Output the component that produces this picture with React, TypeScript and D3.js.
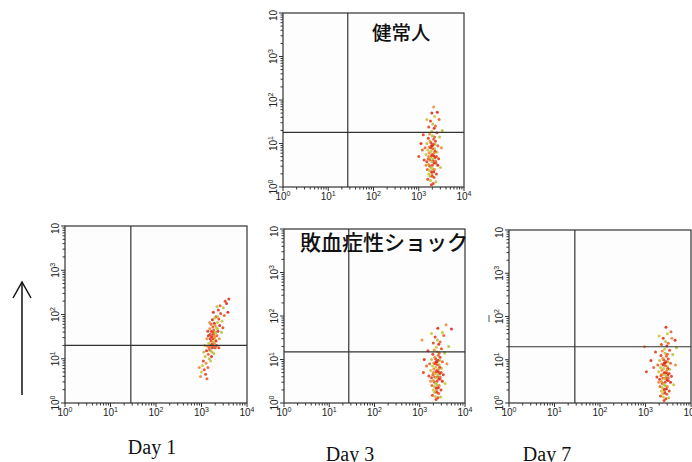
import React, { useEffect, useRef } from "react";
import * as d3 from "d3";

// points are log10 values (x decade, y decade)
const healthyPts =
  "3.30 0.75, 3.25 0.62, 3.35 0.88, 3.28 0.95, 3.22 0.70, 3.38 0.55, 3.31 0.42, 3.27 1.02, 3.33 1.10, 3.20 0.85, 3.36 0.68, 3.29 0.30, 3.24 0.48, 3.40 0.80, 3.18 0.58, 3.34 0.22, 3.26 0.15, 3.31 0.60, 3.23 0.92, 3.37 1.05, 3.30 1.18, 3.21 1.12, 3.42 0.95, 3.16 0.75, 3.28 0.35, 3.35 0.40, 3.32 0.08, 3.25 0.25, 3.39 0.30, 3.19 0.40, 3.27 0.82, 3.33 0.72, 3.22 0.52, 3.30 0.50, 3.36 0.98, 3.44 0.65, 3.14 0.90, 3.29 1.28, 3.34 1.35, 3.24 1.22, 3.40 1.25, 3.31 1.45, 3.26 1.52, 3.37 1.40, 3.35 1.62, 3.29 1.70, 3.33 1.84, 3.22 1.38, 3.46 1.15, 3.12 0.62, 3.08 0.85, 3.48 0.45, 3.05 1.00, 3.50 0.90, 3.20 0.18, 3.38 0.12, 3.28 0.05, 3.31 0.88, 3.26 0.68, 3.34 0.55, 3.23 0.78, 3.32 0.98, 3.27 0.45, 3.36 0.82, 3.21 0.65, 3.29 0.58, 3.33 0.35, 3.25 1.05, 3.39 0.70, 3.18 1.00, 3.30 0.25, 3.35 1.15, 3.24 0.38, 3.42 0.50, 3.16 0.50, 3.28 0.72, 3.32 0.65, 3.26 0.90, 3.37 0.60, 3.22 0.30, 3.30 0.95, 3.34 0.78, 3.00 0.70, 3.52 1.30, 3.10 1.20, 3.45 1.55, 3.18 1.55, 3.41 1.72";
const day1Pts =
  "3.25 1.45, 3.20 1.30, 3.30 1.60, 3.22 1.50, 3.28 1.35, 3.18 1.20, 3.33 1.70, 3.26 1.55, 3.15 1.10, 3.35 1.82, 3.24 1.25, 3.29 1.48, 3.21 1.40, 3.31 1.42, 3.19 1.55, 3.27 1.65, 3.23 1.15, 3.36 1.62, 3.13 1.28, 3.38 1.90, 3.17 1.00, 3.32 1.95, 3.25 1.72, 3.20 0.95, 3.40 1.75, 3.12 1.45, 3.30 1.25, 3.26 1.38, 3.22 1.62, 3.34 1.52, 3.16 1.35, 3.28 1.80, 3.10 0.90, 3.42 2.02, 3.08 1.05, 3.37 2.10, 3.14 0.80, 3.45 1.85, 3.24 1.88, 3.18 1.68, 3.06 0.75, 3.48 2.15, 3.04 0.95, 3.50 1.98, 3.00 0.70, 3.55 2.25, 2.98 0.60, 3.52 2.30, 3.27 1.12, 3.33 1.30, 3.21 1.78, 3.29 1.92, 3.11 1.18, 3.39 1.45, 3.23 1.33, 3.31 1.58, 3.19 1.45, 3.26 1.28, 3.35 1.68, 3.15 1.52, 3.28 1.52, 3.24 1.60, 3.20 1.18, 3.32 1.40, 3.17 1.25, 3.36 1.95, 3.22 1.05, 3.30 1.75, 3.09 0.65, 3.44 1.60, 3.14 1.62, 3.41 2.20, 3.02 0.85, 3.58 2.05, 2.95 0.80, 3.47 1.70, 3.07 1.30, 3.60 2.35, 3.12 0.55, 3.34 2.18, 3.26 2.05, 3.18 1.82, 3.38 1.25, 3.05 1.15";
const day3Pts =
  "3.38 0.75, 3.33 0.60, 3.43 0.88, 3.36 0.95, 3.30 0.70, 3.45 0.55, 3.39 0.42, 3.35 1.02, 3.41 1.10, 3.28 0.85, 3.44 0.68, 3.37 0.30, 3.32 0.48, 3.48 0.80, 3.26 0.58, 3.42 0.22, 3.34 0.15, 3.39 0.60, 3.31 0.92, 3.45 1.05, 3.38 1.18, 3.29 1.12, 3.50 0.95, 3.24 0.75, 3.36 0.35, 3.43 0.40, 3.40 0.12, 3.33 0.25, 3.47 0.30, 3.27 0.40, 3.35 0.82, 3.41 0.72, 3.30 0.52, 3.38 0.50, 3.44 0.98, 3.52 0.65, 3.22 0.90, 3.37 1.28, 3.42 1.35, 3.32 1.22, 3.48 1.25, 3.39 1.45, 3.34 1.52, 3.45 1.40, 3.50 1.62, 3.40 1.72, 3.58 1.80, 3.30 1.38, 3.55 1.15, 3.20 0.62, 3.15 0.85, 3.56 0.45, 3.10 1.00, 3.60 0.90, 3.28 0.18, 3.46 0.14, 3.36 0.08, 3.39 0.88, 3.34 0.68, 3.42 0.55, 3.31 0.78, 3.40 0.98, 3.35 0.45, 3.44 0.82, 3.29 0.65, 3.37 0.58, 3.41 0.35, 3.33 1.05, 3.47 0.70, 3.26 1.00, 3.38 0.25, 3.43 1.15, 3.32 0.38, 3.50 0.50, 3.24 0.50, 3.36 0.72, 3.40 0.65, 3.34 0.90, 3.45 0.60, 3.30 0.30, 3.38 0.95, 3.42 0.78, 3.08 0.70, 3.64 1.30, 3.18 1.20, 3.53 1.55, 3.26 1.60, 3.70 1.70, 3.05 1.45";
const day7Pts =
  "3.43 0.70, 3.38 0.58, 3.48 0.85, 3.41 0.92, 3.35 0.66, 3.50 0.52, 3.44 0.40, 3.40 1.00, 3.46 1.08, 3.33 0.82, 3.49 0.65, 3.42 0.28, 3.37 0.45, 3.53 0.78, 3.31 0.55, 3.47 0.20, 3.39 0.14, 3.44 0.58, 3.36 0.90, 3.50 1.02, 3.43 1.15, 3.34 1.10, 3.55 0.92, 3.29 0.72, 3.41 0.32, 3.48 0.38, 3.45 0.10, 3.38 0.22, 3.52 0.28, 3.32 0.38, 3.40 0.80, 3.46 0.70, 3.35 0.50, 3.43 0.48, 3.49 0.95, 3.57 0.62, 3.27 0.88, 3.42 1.25, 3.47 1.32, 3.37 1.20, 3.53 1.22, 3.44 1.42, 3.39 1.50, 3.50 1.38, 3.48 1.60, 3.45 1.75, 3.58 1.50, 3.35 1.35, 3.60 1.12, 3.25 0.60, 3.18 0.82, 3.62 0.42, 3.12 0.98, 3.66 0.88, 3.33 0.16, 3.51 0.12, 3.41 0.06, 3.44 0.86, 3.39 0.66, 3.47 0.53, 3.36 0.76, 3.45 0.96, 3.40 0.43, 3.49 0.80, 3.34 0.63, 3.42 0.56, 3.46 0.33, 3.38 1.03, 3.52 0.68, 3.31 0.98, 3.43 0.23, 3.48 1.13, 3.37 0.36, 3.55 0.48, 3.29 0.48, 3.41 0.70, 3.45 0.63, 3.39 0.88, 3.50 0.58, 3.35 0.28, 3.43 0.93, 3.47 0.76, 3.02 0.72, 3.68 1.28, 3.22 1.18, 3.56 1.65, 3.30 1.55, 3.65 1.45, 2.98 1.30";

// quadrant gate positions [x, y] in fluorescence units
const gates = [
  [27, 18],
  [28, 20],
  [27, 15],
  [28, 20],
];
const exponents = [0, 1, 2, 3, 4];
const groupLabels = ["健常人", "敗血症性ショック"];
const dayLabels = ["Day 1", "Day 3", "Day 7"];

const dotColors = ["#e23a1f", "#e8602b", "#c8c43c", "#d92e1c", "#ee8a36", "#e4451f", "#b9bf3e"];

const parse = (s: string) =>
  s.split(",").map((p) => {
    const [a, b] = p.trim().split(" ").map(Number);
    return [Math.pow(10, a), Math.pow(10, b)];
  });

const panels = [
  { pts: parse(healthyPts), gate: gates[0], x0: 283, x1: 464, y0: 13, y1: 187 },
  { pts: parse(day1Pts), gate: gates[1], x0: 65, x1: 247, y0: 226, y1: 403 },
  { pts: parse(day3Pts), gate: gates[2], x0: 284, x1: 465, y0: 229, y1: 403 },
  { pts: parse(day7Pts), gate: gates[3], x0: 509, x1: 691, y0: 230, y1: 403 },
];

const App = () => {
  const ref = useRef<SVGSVGElement>(null);

  useEffect(() => {
    document.body.style.margin = "0";
    const svg = d3.select(ref.current);
    svg.selectAll("*").remove();
    svg.append("rect").attr("width", 692).attr("height", 462).attr("fill", "#fff");

    const minors: number[] = [];
    for (let e = 0; e < 4; e++) for (let m = 2; m <= 9; m++) minors.push(m * Math.pow(10, e));

    panels.forEach((p) => {
      const x = d3.scaleLog().domain([1, 1e4]).range([p.x0, p.x1]);
      const y = d3.scaleLog().domain([1, 1e4]).range([p.y1, p.y0]);
      const g = svg.append("g");

      g.append("rect")
        .attr("x", p.x0)
        .attr("y", p.y0)
        .attr("width", p.x1 - p.x0)
        .attr("height", p.y1 - p.y0)
        .attr("fill", "#fdfdfd")
        .attr("stroke", "#333")
        .attr("stroke-width", 1.2);

      // dots
      g.selectAll(".dot")
        .data(p.pts)
        .join("circle")
        .attr("cx", (d) => x(d[0]))
        .attr("cy", (d) => y(d[1]))
        .attr("r", 1.5)
        .attr("fill", (_, i) => dotColors[i % dotColors.length])
        .attr("opacity", 0.9);

      // gate lines
      g.append("line")
        .attr("x1", x(p.gate[0]))
        .attr("x2", x(p.gate[0]))
        .attr("y1", p.y0)
        .attr("y2", p.y1)
        .attr("stroke", "#333")
        .attr("stroke-width", 1.2);
      g.append("line")
        .attr("x1", p.x0)
        .attr("x2", p.x1)
        .attr("y1", y(p.gate[1]))
        .attr("y2", y(p.gate[1]))
        .attr("stroke", "#333")
        .attr("stroke-width", 1.2);

      // ticks
      g.selectAll(".xminor")
        .data(minors)
        .join("line")
        .attr("x1", (d) => x(d))
        .attr("x2", (d) => x(d))
        .attr("y1", p.y1)
        .attr("y2", p.y1 + 2.5)
        .attr("stroke", "#333");
      g.selectAll(".yminor")
        .data(minors)
        .join("line")
        .attr("y1", (d) => y(d))
        .attr("y2", (d) => y(d))
        .attr("x1", p.x0)
        .attr("x2", p.x0 - 2.5)
        .attr("stroke", "#333");
      g.selectAll(".xmajor")
        .data(exponents)
        .join("line")
        .attr("x1", (d) => x(Math.pow(10, d)))
        .attr("x2", (d) => x(Math.pow(10, d)))
        .attr("y1", p.y1)
        .attr("y2", p.y1 + 4)
        .attr("stroke", "#333");
      g.selectAll(".ymajor")
        .data(exponents)
        .join("line")
        .attr("y1", (d) => y(Math.pow(10, d)))
        .attr("y2", (d) => y(Math.pow(10, d)))
        .attr("x1", p.x0)
        .attr("x2", p.x0 - 4)
        .attr("stroke", "#333");

      // x tick labels
      exponents.forEach((e) => {
        const t = g
          .append("text")
          .attr("x", x(Math.pow(10, e)))
          .attr("y", p.y1 + 13)
          .attr("text-anchor", "middle")
          .attr("font-family", "Liberation Sans, Arial, sans-serif")
          .attr("font-size", 10)
          .attr("fill", "#222");
        t.append("tspan").text("10");
        t.append("tspan").attr("dy", -4).attr("font-size", 7).text(String(e));
      });

      // y tick labels (rotated)
      exponents.forEach((e) => {
        const top = e === 4;
        const t = g
          .append("text")
          .attr(
            "transform",
            `translate(${p.x0 - 6},${top ? p.y0 + 8 : y(Math.pow(10, e))}) rotate(-90)`
          )
          .attr("text-anchor", top ? "start" : "middle")
          .attr("font-family", "Liberation Sans, Arial, sans-serif")
          .attr("font-size", 10)
          .attr("fill", "#222");
        t.append("tspan").text("10");
        if (!top) t.append("tspan").attr("dy", -4).attr("font-size", 7).text(String(e));
      });
    });

    // group labels
    const jp = "Noto Sans CJK JP, sans-serif";
    svg.append("text").attr("x", 372).attr("y", 40).attr("font-family", jp).attr("font-size", 19.5).attr("font-weight", 500).attr("fill", "#111").text(groupLabels[0]);
    svg.append("text").attr("x", 300).attr("y", 250).attr("font-family", jp).attr("font-size", 21).attr("font-weight", 500).attr("fill", "#111").text(groupLabels[1]);

    // day labels
    const dayX = [152, 350, 547];
    const dayY = [454, 461, 461];
    dayLabels.forEach((d, i) => {
      svg.append("text")
        .attr("x", dayX[i])
        .attr("y", dayY[i])
        .attr("text-anchor", "middle")
        .attr("font-family", "Liberation Serif, Times New Roman, serif")
        .attr("font-size", 20)
        .attr("fill", "#111")
        .text(d);
    });

    // arrow
    const arrow = svg.append("g").attr("stroke", "#111").attr("stroke-width", 1.5).attr("fill", "none");
    arrow.append("line").attr("x1", 22).attr("x2", 22).attr("y1", 395).attr("y2", 282);
    arrow.append("path").attr("d", "M13,298 L22,282 L31,298");

    // small scan artifact near the Day 7 axis
    svg.append("line").attr("x1", 489).attr("x2", 489).attr("y1", 315).attr("y2", 322).attr("stroke", "#555");
  }, []);

  return <svg ref={ref} width={692} height={462} style={{ display: "block" }} />;
};

export default App;
